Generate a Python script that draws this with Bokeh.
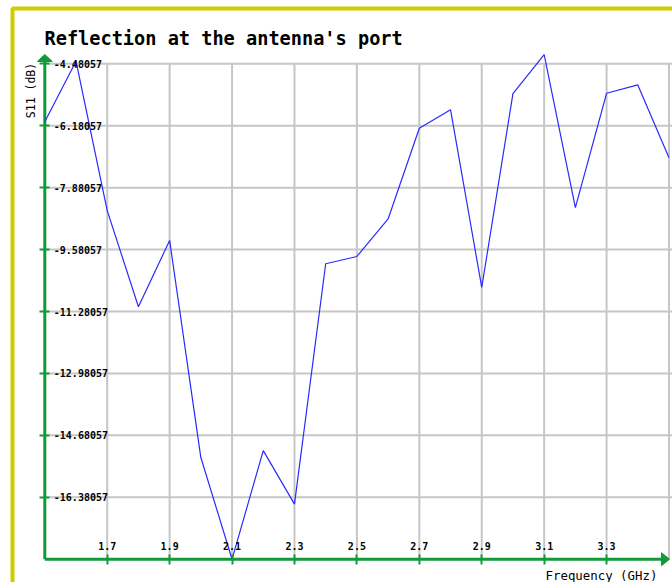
import math

from bokeh.core.properties import value
from bokeh.embed import file_html
from bokeh.models import FixedTicker, LinearAxis, PrintfTickFormatter, Range1d
from bokeh.plotting import figure
from bokeh.resources import INLINE

# ---- data -------------------------------------------------------------
freq_ghz = [1.5, 1.6, 1.7, 1.8, 1.9, 2.0, 2.1, 2.2, 2.3, 2.4, 2.5,
            2.6, 2.7, 2.8, 2.9, 3.0, 3.1, 3.2, 3.3, 3.4, 3.5]
s11_db = [-6.07, -4.41, -8.51, -11.15, -9.33, -15.29, -18.08057, -15.10,
          -16.57, -9.97, -9.77, -8.74, -6.25, -5.74, -10.62, -5.30, -4.23,
          -8.43, -5.29, -5.06, -7.06]

x_ticks = [1.7, 1.9, 2.1, 2.3, 2.5, 2.7, 2.9, 3.1, 3.3]
x_grid = [1.7, 1.9, 2.1, 2.3, 2.5, 2.7, 2.9, 3.1, 3.3, 3.5]
y_ticks = [-16.38057, -14.68057, -12.98057, -11.28057,
           -9.58057, -7.88057, -6.18057, -4.48057]

title_text = "Reflection at the antenna's port"
x_label = "Frequency (GHz)"
y_label = "S11 (dB)"

# ---- page geometry (pixels) -------------------------------------------
W, H = 672, 582
X0_PX, X1_PX = 44.3, 668.5        # where the first / last frequency sit
YB_PX, YT_PX = 558.7, 63.3        # where the minimum / top tick sit

x_min, x_max = freq_ghz[0], freq_ghz[-1]
y_min = min(s11_db)
y_top = y_ticks[-1]

kx = (X1_PX - X0_PX) / (x_max - x_min)
ky = (YB_PX - YT_PX) / (y_top - y_min)
x_start = x_min - X0_PX / kx
x_end = x_start + W / kx
y_end = y_top + YT_PX / ky
y_start = y_end - H / ky


def px(p):
    """horizontal pixel -> data x"""
    return x_start + p / kx


def py(p):
    """vertical pixel (from top) -> data y"""
    return y_end - p / ky


GREEN = "#12993a"
GRID = "#c6c6c6"
YELLOW = "#d2cb00"
BLUE = "#2a2aff"
MONO = "DejaVu Sans Mono"

p = figure(width=W, height=H,
           x_range=Range1d(x_start, x_end), y_range=Range1d(y_start, y_end),
           output_backend="svg", toolbar_location=None,
           x_axis_location=None, y_axis_location=None,
           min_border=0, outline_line_color=None,
           background_fill_color="white", border_fill_color="white")
p.grid.visible = False

# frame around the whole chart
p.quad(left=[px(12)], right=[px(W + 30)], top=[py(8)], bottom=[py(H + 30)],
       fill_color=None, line_color=YELLOW, line_width=4)

# grid
p.segment(x0=x_grid, y0=[y_min] * len(x_grid), x1=x_grid,
          y1=[y_top] * len(x_grid), line_color=GRID, line_width=2)
p.segment(x0=[x_min] * len(y_ticks), y0=y_ticks, x1=[x_end] * len(y_ticks),
          y1=y_ticks, line_color=GRID, line_width=2)

# axis lines with arrow heads
y_tip, y_base = py(54), py(61)
x_tip, x_base = px(669), px(661)
p.segment(x0=[x_min], y0=[y_min], x1=[x_min], y1=[y_base],
          line_color=GREEN, line_width=3)
p.segment(x0=[x_min], y0=[y_min], x1=[x_base], y1=[y_min],
          line_color=GREEN, line_width=3)
hw_y = 7.5 / kx
hw_x = 6.5 / ky
p.patches(xs=[[x_min - hw_y, x_min, x_min + hw_y],
              [x_base, x_tip, x_base]],
          ys=[[y_base, y_tip, y_base],
              [y_min - hw_x, y_min, y_min + hw_x]],
          fill_color=GREEN, line_color=GREEN, line_width=1)

# measured reflection
p.line(freq_ghz, s11_db, line_color=BLUE, line_width=1.2)

# tick marks and tick labels on the inner side of both axes
yaxis = LinearAxis(fixed_location=x_min,
                   ticker=FixedTicker(ticks=y_ticks),
                   formatter=PrintfTickFormatter(format="%.5f"))
xaxis = LinearAxis(fixed_location=y_min,
                   ticker=FixedTicker(ticks=x_ticks),
                   formatter=PrintfTickFormatter(format="%.1f"))
for ax in (yaxis, xaxis):
    ax.axis_line_color = None
    ax.major_tick_line_color = GREEN
    ax.major_tick_line_width = 2
    ax.major_tick_in = 5
    ax.major_tick_out = 5
    ax.minor_tick_line_color = None
    ax.major_label_standoff = 4
    ax.major_label_text_font = MONO
    ax.major_label_text_font_size = "10px"
    ax.major_label_text_font_style = "bold"
    ax.major_label_text_color = "black"
p.add_layout(yaxis, "right")
p.add_layout(xaxis, "above")

# titles
p.text(x=[px(44)], y=[py(37.5)], text=[title_text],
       text_font=value(MONO), text_font_size="18.6px", text_font_style="bold",
       text_align="left", text_baseline="alphabetic", text_color="black")
p.text(x=[px(545)], y=[py(575)], text=[x_label],
       text_font=value(MONO), text_font_size="12.4px",
       text_align="left", text_baseline="alphabetic", text_color="black")
p.text(x=[px(30)], y=[py(90)], text=[y_label], angle=math.pi / 2,
       text_font=value(MONO), text_font_size="11.5px",
       text_align="center", text_baseline="middle", text_color="black")

open("out.html", "w").write(file_html(p, INLINE))
